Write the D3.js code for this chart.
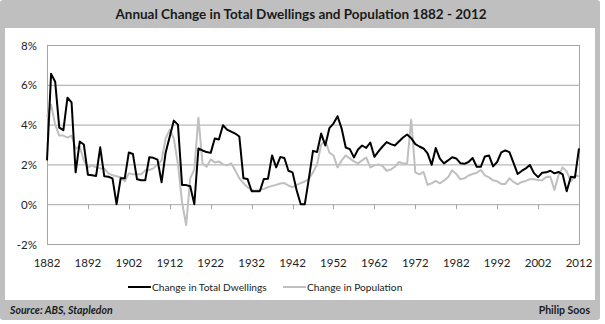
<!DOCTYPE html>
<html>
<head>
<meta charset="utf-8">
<script src="https://cdn.jsdelivr.net/npm/d3@7"></script>
<style>
  body { margin: 0; background: #fff; }
  svg { display: block; font-family: Lato, 'Open Sans', sans-serif; }
</style>
</head>
<body>
<svg id="chart" width="605" height="324"></svg>
<script>
const title = 'Annual Change in Total Dwellings and Population 1882 - 2012';
const source = 'Source: ABS, Stapledon';
const author = 'Philip Soos';
const firstYear = 1882;
const lastYear = 2012;
const xTicks = [1882, 1892, 1902, 1912, 1922, 1932, 1942, 1952, 1962, 1972, 1982, 1992, 2002, 2012];
const yTicks = [-2, 0, 2, 4, 6, 8];
const seriesNames = ['Change in Total Dwellings', 'Change in Population'];

// % change per year, 1882..2012 (one row per decade)
const dwellings = [
  2.2, 6.55, 6.15, 3.85, 3.72, 5.35, 5.12, 1.6, 3.15, 3.0,      // 1882-1891
  1.48, 1.46, 1.42, 2.86, 1.4, 1.38, 1.3, 0.0, 1.3, 1.3,        // 1892-1901
  2.6, 2.52, 1.25, 1.2, 1.2, 2.36, 2.33, 2.24, 1.1, 2.6,        // 1902-1911
  3.4, 4.2, 4.0, 0.97, 0.96, 0.9, 0.0, 2.8, 2.7, 2.62,          // 1912-1921
  2.58, 3.3, 3.25, 3.97, 3.75, 3.65, 3.55, 3.4, 1.3, 1.27,      // 1922-1931
  0.65, 0.65, 0.65, 1.27, 1.28, 2.45, 1.85, 2.37, 2.32, 1.68,   // 1932-1941
  1.6, 0.7, 0.0, 0.0, 1.3, 2.68, 2.62, 3.55, 2.95, 3.82,        // 1942-1951
  4.05, 4.42, 3.8, 2.85, 2.77, 2.35, 2.75, 2.95, 2.83, 3.1,     // 1952-1961
  2.38, 2.65, 2.9, 3.12, 3.02, 2.95, 3.15, 3.35, 3.5, 3.32,     // 1962-1971
  3.02, 2.9, 2.8, 2.55, 1.98, 2.82, 2.29, 2.05, 2.2, 2.36,      // 1972-1981
  2.3, 2.06, 2.03, 2.12, 2.32, 1.88, 1.88, 2.4, 2.45, 1.9,      // 1982-1991
  2.12, 2.6, 2.7, 2.62, 2.08, 1.52, 1.67, 1.8, 1.97, 1.56,      // 1992-2001
  1.36, 1.58, 1.6, 1.68, 1.55, 1.62, 1.5, 0.65, 1.38, 1.34,     // 2002-2011
  2.8                                                           // 2012
];

const population = [
  4.4, 5.0, 4.0, 3.45, 3.45, 3.35, 3.45, 2.8, 2.9, 2.2,         // 1882-1891
  1.85, 1.95, 1.85, 1.8, 1.8, 1.55, 1.45, 1.4, 1.35, 1.15,      // 1892-1901
  1.55, 1.5, 1.5, 1.5, 1.7, 1.72, 1.8, 2.0, 2.2, 3.3,           // 1902-1911
  3.75, 3.3, 2.0, 0.1, -1.05, 1.3, 1.75, 4.35, 2.05, 1.88,      // 1912-1921
  2.25, 2.1, 2.15, 2.0, 1.95, 2.05, 1.7, 1.3, 1.06, 0.85,       // 1922-1931
  0.73, 0.68, 0.72, 0.77, 0.86, 0.92, 0.97, 1.04, 1.06, 0.94,   // 1932-1941
  0.85, 0.97, 1.06, 1.14, 1.28, 1.6, 2.0, 3.0, 3.2, 2.6,        // 1942-1951
  2.45, 1.85, 2.2, 2.45, 2.3, 2.15, 2.05, 2.2, 2.35, 1.85,      // 1952-1961
  1.95, 2.0, 1.92, 1.68, 1.74, 1.88, 2.12, 2.05, 2.04, 4.25,    // 1962-1971
  1.6, 1.5, 1.62, 0.97, 1.05, 1.17, 1.05, 1.19, 1.35, 1.7,      // 1972-1981
  1.52, 1.25, 1.3, 1.44, 1.52, 1.58, 1.72, 1.45, 1.35, 1.2,     // 1982-1991
  1.15, 1.02, 1.02, 1.3, 1.12, 1.0, 1.12, 1.17, 1.26, 1.26,     // 1992-2001
  1.2, 1.2, 1.37, 1.38, 0.72, 1.45, 1.85, 1.65, 1.15, 1.45,     // 2002-2011
  1.4                                                           // 2012
];

const svg = d3.select('#chart');
const frameGray = '#bfbfbf';
const gridGray = '#a6a6a6';

// frame, title bar, footer
svg.append('rect').attr('x', 0).attr('y', 0).attr('width', 600).attr('height', 320)
  .attr('rx', 3).attr('fill', frameGray);
svg.append('rect').attr('x', 5).attr('y', 28).attr('width', 590).attr('height', 272)
  .attr('fill', '#fff');

svg.append('text').attr('x', 301).attr('y', 19).attr('text-anchor', 'middle')
  .attr('font-size', 13.5).attr('font-weight', 'bold').attr('fill', '#1a1a1a')
  .text(title);

svg.append('text').attr('x', 10).attr('y', 314)
  .attr('font-size', 10.5).attr('font-weight', 'bold').attr('font-style', 'italic').attr('fill', '#1a1a1a')
  .text(source);
svg.append('text').attr('x', 590).attr('y', 314).attr('text-anchor', 'end')
  .attr('font-size', 10.5).attr('font-weight', 'bold').attr('fill', '#1a1a1a')
  .text(author);

// scales
const x = d3.scaleLinear().domain([firstYear, lastYear]).range([47, 579]);
const y = d3.scaleLinear().domain([-2, 8]).range([244, 45]);

const years = d3.range(firstYear, lastYear + 1);

// gridlines
svg.append('g')
  .selectAll('line')
  .data(yTicks)
  .join('line')
  .attr('x1', x(firstYear)).attr('x2', x(lastYear))
  .attr('y1', d => y(d) + 0.5).attr('y2', d => y(d) + 0.5)
  .attr('stroke', gridGray).attr('stroke-width', 1);

// plot border (left and right)
svg.append('line').attr('x1', x(firstYear) + 0.5).attr('x2', x(firstYear) + 0.5)
  .attr('y1', y(8)).attr('y2', y(-2) + 1).attr('stroke', gridGray);
svg.append('line').attr('x1', x(lastYear) + 0.5).attr('x2', x(lastYear) + 0.5)
  .attr('y1', y(8)).attr('y2', y(-2) + 1).attr('stroke', gridGray);

// y axis labels
const yAxis = svg.append('g')
  .attr('transform', `translate(${x(firstYear)}, 0.5)`)
  .call(d3.axisLeft(y).tickValues(yTicks).tickSize(0).tickPadding(10).tickFormat(d => d + '%'));
yAxis.select('.domain').remove();
yAxis.selectAll('text').attr('font-size', 11.5).attr('fill', '#222').attr('font-family', 'Lato, sans-serif');

// x axis: ticks hang under the 0% line, labels at the bottom
svg.append('g')
  .selectAll('line')
  .data(xTicks)
  .join('line')
  .attr('x1', d => Math.round(x(d)) + 0.5).attr('x2', d => Math.round(x(d)) + 0.5)
  .attr('y1', y(0)).attr('y2', y(0) + 5)
  .attr('stroke', gridGray);

svg.append('g')
  .selectAll('text')
  .data(xTicks)
  .join('text')
  .attr('x', d => x(d))
  .attr('y', 267)
  .attr('text-anchor', 'middle')
  .attr('font-size', 11.5)
  .attr('fill', '#222')
  .text(d => d);

// lines
const line = d3.line()
  .x((d, i) => x(years[i]))
  .y(d => y(d))
  .curve(d3.curveLinear);

svg.append('path')
  .attr('d', line(population))
  .attr('fill', 'none')
  .attr('stroke', frameGray)
  .attr('stroke-width', 2)
  .attr('stroke-linejoin', 'round');

svg.append('path')
  .attr('d', line(dwellings))
  .attr('fill', 'none')
  .attr('stroke', '#000')
  .attr('stroke-width', 2)
  .attr('stroke-linejoin', 'round');

// legend
const legendItems = [
  { name: seriesNames[0], color: '#000', x: 128 },
  { name: seriesNames[1], color: frameGray, x: 283 }
];
const legend = svg.append('g');
legendItems.forEach(item => {
  legend.append('line')
    .attr('x1', item.x).attr('x2', item.x + 23)
    .attr('y1', 287).attr('y2', 287)
    .attr('stroke', item.color).attr('stroke-width', 2);
  legend.append('text')
    .attr('x', item.x + 24).attr('y', 290.5)
    .attr('font-size', 10.2).attr('fill', '#222')
    .text(item.name);
});
</script>
</body>
</html>
